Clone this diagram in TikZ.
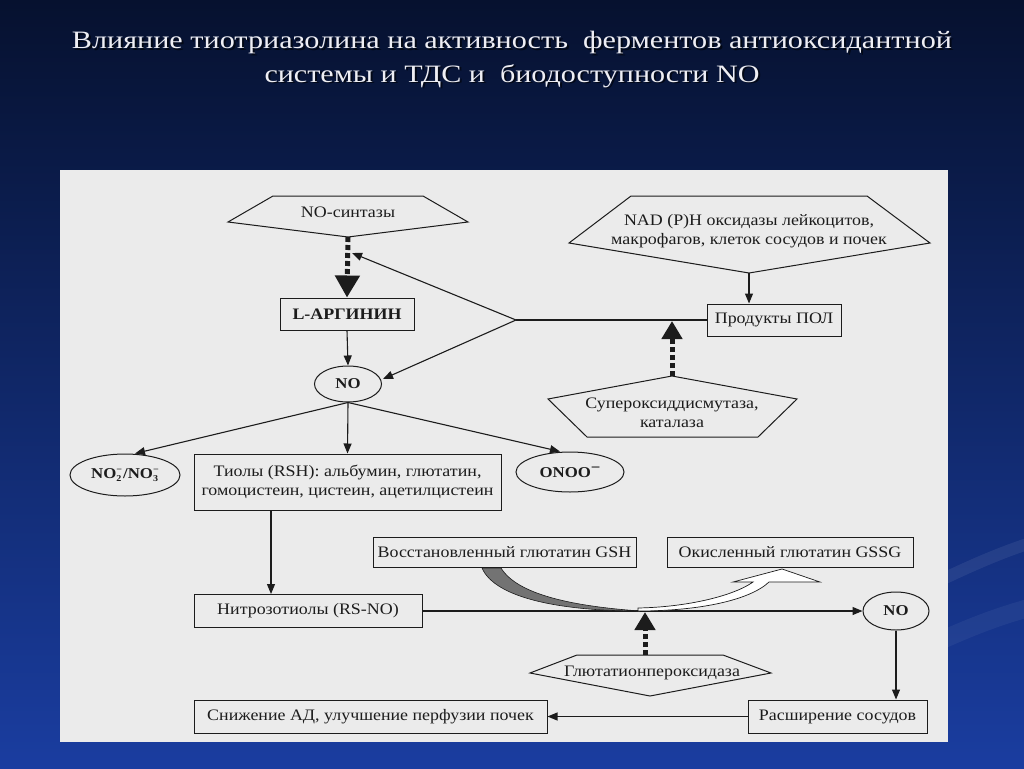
\documentclass[tikz,border=0pt]{standalone}
\usepackage{fontspec}
\usepackage{graphicx}
\setmainfont{Liberation Serif}
\newfontfamily\dfont{Liberation Serif}[FakeStretch=1.12]
\newfontfamily\tfont{Liberation Serif}
\usetikzlibrary{arrows.meta,calc,shapes.geometric}
\definecolor{panel}{HTML}{EBEBEB}
\definecolor{ink}{HTML}{1C1C1C}
\definecolor{bgtop}{HTML}{06112F}
\definecolor{bgmid}{HTML}{102E86}
\definecolor{bgbot}{HTML}{1A3DA0}
\definecolor{titlec}{HTML}{EEEEF4}
\newcommand\dsize{\fontsize{16}{19}\selectfont}
\newcommand\ionm[1]{\raisebox{-3.5pt}{\fontsize{9}{8.5}\selectfont\shortstack[l]{−\\#1}}}
\begin{document}
\begin{tikzpicture}[x=1pt,y=-1pt,
  ln/.style={draw=ink, line width=1.1pt},
  arr/.style={ln, -{Triangle[length=10pt,width=8pt]}},
  bigdot/.style={draw=ink, line width=5pt, dash pattern=on 5pt off 3pt, -{Triangle[length=22pt,width=24pt]}},
  bigdotS/.style={draw=ink, line width=5pt, dash pattern=on 5pt off 3pt, -{Triangle[length=18pt,width=20pt]}},
  box/.style={draw=ink, line width=1pt, text=ink, font=\dfont\dsize, align=center, inner sep=0pt},
  oval/.style={ellipse, draw=ink, line width=1pt, text=ink, inner sep=0pt, font=\dfont\bfseries\fontsize{15}{18}\selectfont},
  lbl/.style={text=ink, font=\dfont\dsize, align=center, inner sep=0pt},
  shp/.style={draw=ink, line width=1pt, line join=miter},
  ttl/.style={text=titlec, font=\tfont\fontsize{25}{30}\selectfont, anchor=base, inner sep=0pt},
  ttlsh/.style={ttl, text=black, opacity=0.6},
  swoosh/.style={draw=white, opacity=0.07, line width=12pt}
]
\useasboundingbox (0,0) rectangle (1024,768);
\shade[top color=bgtop, middle color=bgmid, bottom color=bgbot] (0,0) rectangle (1024,768);
\draw[swoosh] (900,600) .. controls (960,570) and (1000,552) .. (1040,540);
\draw[swoosh, opacity=0.05, line width=18pt] (900,660) .. controls (960,630) and (1000,615) .. (1040,605);

% title
\node[ttlsh] (t1s) at (514,50.5) {\resizebox{880pt}{\height}{Влияние тиотриазолина на активность\ \ ферментов антиоксидантной}};
\node[ttlsh] (t2s) at (514,83.5) {\resizebox{495pt}{\height}{системы и ТДС и\ \ биодоступности NO}};
\node[ttl] (t1) at (512,49) {\resizebox{880pt}{\height}{Влияние тиотриазолина на активность\ \ ферментов антиоксидантной}};
\node[ttl] (t2) at (512,82) {\resizebox{495pt}{\height}{системы и ТДС и\ \ биодоступности NO}};

% panel
\fill[panel] (60,170) rectangle (948,742);

% NO-synthase
\draw[shp] (273,196) -- (423,196) -- (468,222) -- (348,237) -- (228,222) -- cycle;
\node[lbl] (nos) at (348,212) {NO-синтазы};
\coordinate (nosB) at (348,237);

% L-arginine
\node[box, minimum width=134pt, minimum height=32pt, font=\dfont\dsize\bfseries] (larg) at (347,314) {L-АРГИНИН};
\draw[bigdot] (nosB) -- (larg.north);

% NO (1)
\node[oval, minimum width=67pt, minimum height=36pt] (no1) at (348,384) {NO};
\draw[arr] (larg.south) -- (no1.north);

% NAD(P)H
\draw[shp] (631,196) -- (867,196) -- (930,243) -- (749,273) -- (569,243) -- cycle;
\node[lbl] (nad) at (749,231) {NAD (P)H оксидазы лейкоцитов,\\макрофагов, клеток сосудов и почек};
\coordinate (nadB) at (749,273);

% POL
\node[box, minimum width=134pt, minimum height=32pt] (pol) at (774,320) {Продукты ПОЛ};
\draw[arr] (nadB) -- (nadB |- pol.north);

% hub
\coordinate (hub) at (516,320);
\coordinate (nosdot) at (352,253);
\draw[ln] (hub) -- (pol.west);
\draw[arr] (hub) -- (nosdot);
\draw[arr] (hub) -- ($(no1.east)+(1,-5)$);

% SOD
\draw[shp] (672,376) -- (797,399) -- (758,437) -- (587,437) -- (548,399) -- cycle;
\node[lbl] (sod) at (672,413) {Супероксиддисмутаза,\\каталаза};
\coordinate (sodT) at (672,376);
\coordinate (polline) at (672,321);
\draw[bigdotS] (sodT) -- (polline);

% NO2/NO3
\node[oval, minimum width=110pt, minimum height=42pt] (no2) at (125,475) {NO\ionm{2}\hspace{1pt}/NO\ionm{3}};
% thiols
\node[box, minimum width=307pt, minimum height=56pt] (thiol) at (347.5,482) {Тиолы (RSH): альбумин, глютатин,\\гомоцистеин, цистеин, ацетилцистеин};
% ONOO
\node[oval, minimum width=108pt, minimum height=40pt] (onoo) at (570,472) {ONOO\raisebox{5pt}{−}};
\draw[arr] (no1.south) -- (thiol.north);
\draw[arr] (no1.south) -- ($(no2.north)+(10,0)$);
\draw[arr] (no1.south) -- ($(onoo.north)+(-10,0)$);

% RS-NO
\node[box, minimum width=228pt, minimum height=33pt] (rsno) at (308,611) {Нитрозотиолы (RS-NO)};
\draw[arr] ($(thiol.south)+(-76.5,0)$) -- ($(rsno.north)+(-37,0)$);

% NO (3)
\node[oval, minimum width=66pt, minimum height=38pt] (no3) at (896,611) {NO};
\draw[arr] (rsno.east) -- (no3.west);

% GSH / GSSG
\node[box, minimum width=263pt, minimum height=30pt] (gsh) at (504.5,552) {Восстановленный глютатин GSH};
\node[box, minimum width=246pt, minimum height=30pt] (gssg) at (790,552) {Окисленный глютатин GSSG};
\filldraw[fill=black!55, draw=ink, line width=0.6pt] (482,568) .. controls (495,598) and (560,611) .. (640,611) .. controls (570,606) and (517,594) .. (501,568) -- cycle;
\filldraw[fill=white, draw=ink, line width=0.7pt] (638,611) .. controls (700,611) and (750,600) .. (769,582) -- (820,582) -- (782,569) -- (733,582) -- (753,582) .. controls (735,595) and (690,607) .. (638,608) -- cycle;

% Glutathione peroxidase
\draw[shp] (577,655) -- (723,655) -- (771,673) -- (650,696) -- (530,673) -- cycle;
\node[lbl] (gpx) at (652,673) {Глютатионпероксидаза};
\coordinate (gpxT) at (645,655);
\coordinate (gline) at (645,612);
\draw[bigdotS] (gpxT) -- (gline);

% bottom row
\node[box, minimum width=353pt, minimum height=33pt] (lowbp) at (370.5,716.5) {Снижение АД, улучшение перфузии почек};
\node[box, minimum width=179pt, minimum height=33pt] (vaso) at (837.5,716.5) {Расширение сосудов};
\draw[arr] (no3.south) -- (no3.south |- vaso.north);
\draw[arr] (vaso.west) -- (lowbp.east);
\end{tikzpicture}
\end{document}
